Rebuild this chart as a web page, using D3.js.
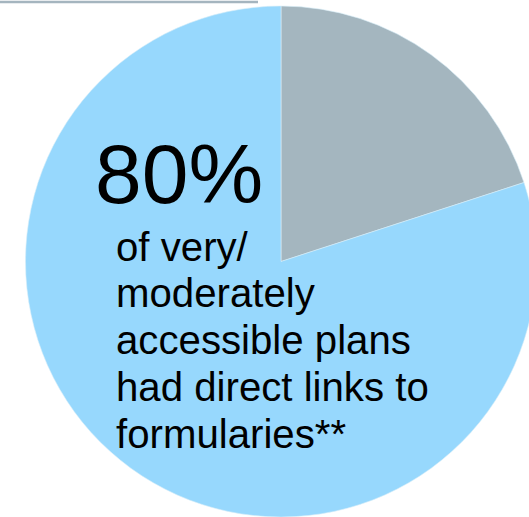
<!DOCTYPE html>
<html>
<head>
<meta charset="utf-8">
<script src="https://cdn.jsdelivr.net/npm/d3@7"></script>
<style>
	html, body { margin: 0; padding: 0; background: #fff; }
	svg { display: block; font-family: "Liberation Sans", Arial, sans-serif; }
</style>
</head>
<body>
<div id="chart"></div>
<script>
'use strict'

// Slice values (percent), drawn clockwise from 12 o'clock
const labels = ['Other', 'Direct links to formularies'];
const values = [20, 80];
const colors = ['#a4b6bf', '#97d8fd'];

const bigLabel = '80%';
const noteLines = ['of very/', 'moderately', 'accessible plans', 'had direct links to', 'formularies**'];

const width = 529;
const height = 517;

const svg = d3.select('#chart')
	.append('svg')
	.attr('width', width)
	.attr('height', height);

// Thin rule at the top-left (slide border)
svg.append('line')
	.attr('x1', 0).attr('x2', 258)
	.attr('y1', 2).attr('y2', 2)
	.attr('stroke', '#a5b5bf')
	.attr('stroke-width', 2.5);

const cx = 281, cy = 261.5, radius = 255.5;

const pie = d3.pie().sort(null).value(d => d);
const arc = d3.arc().innerRadius(0).outerRadius(radius);

svg.append('g')
	.attr('transform', `translate(${cx},${cy})`)
	.selectAll('path')
	.data(pie(values))
	.enter()
	.append('path')
		.attr('d', arc)
		.attr('fill', (d, i) => colors[i])
		.attr('stroke', '#d8eef8')
		.attr('stroke-width', 0.6);

svg.append('text')
	.attr('x', 95)
	.attr('y', 203)
	.attr('font-size', 84)
	.attr('fill', '#000')
	.text(bigLabel);

svg.append('g')
	.selectAll('text')
	.data(noteLines)
	.enter()
	.append('text')
		.attr('x', 116)
		.attr('y', (d, i) => 260.5 + i * 46.9)
		.attr('font-size', 40.2)
		.attr('fill', '#000')
		.text(d => d);
</script>
</body>
</html>
